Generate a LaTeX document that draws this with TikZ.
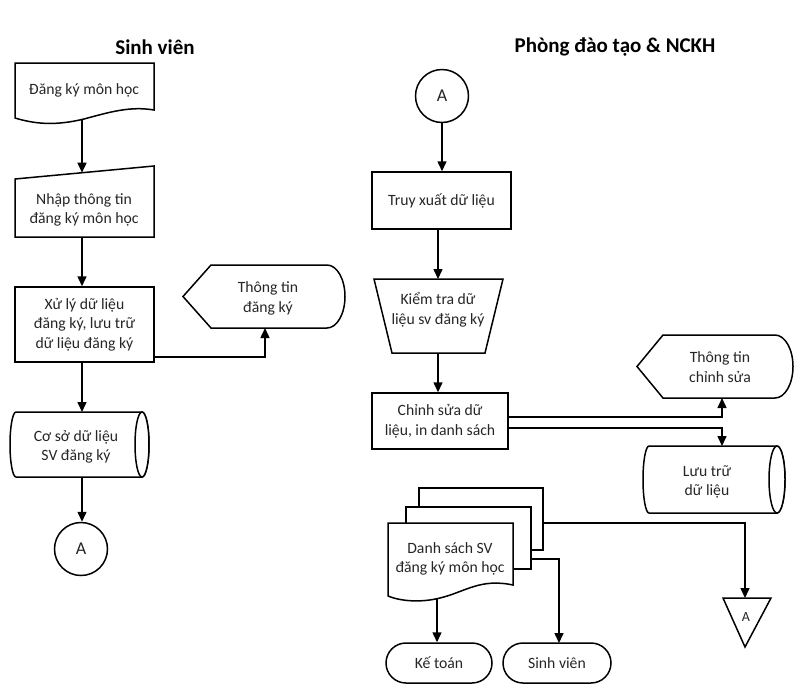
\documentclass[tikz,border=0pt]{standalone}
\usepackage{fontspec}
\setmainfont{Carlito}
\usetikzlibrary{arrows.meta}
\begin{document}
\begin{tikzpicture}[x=1pt,y=-1pt,
 shp/.style={draw=black,line width=1.5pt,fill=white,line join=miter},
 txt/.style={align=center,font=\fontsize{15.7}{19.5}\selectfont,inner sep=0pt,text=black!85},
 hdr/.style={font=\bfseries\fontsize{21}{25}\selectfont,inner sep=0pt},
 conn/.style={draw=black,line width=1.5pt},
 arr/.style={conn,-{Triangle[length=10pt,width=9pt]}},
 boxnode/.style={shp,txt,rectangle},
 circnode/.style={shp,txt,circle,minimum size=53pt,font=\fontsize{18}{20}\selectfont},
 termnode/.style={shp,txt,rectangle,rounded corners=20pt,minimum height=40pt}]
\useasboundingbox (0,0) rectangle (795,686);

% headers
\node[hdr] (h1) at (155,47) {Sinh viên};
\node[hdr] (h2) at (615,47) {Phòng đào tạo \& NCKH};

% ---------- left column ----------
\draw[shp] (15,63) -- (154,63) -- (154,110) .. controls (130,106) and (110,112) .. (84,119) .. controls (55,126) and (35,124) .. (15,118) -- cycle;
\node[txt] (t1) at (84,90) {Đăng ký môn học};
\coordinate (d1b) at (82,120);

\draw[shp] (15,179) -- (154,166) -- (154,237) -- (15,237) -- cycle;
\node[txt] (t2) at (84,210) {Nhập thông tin\\đăng ký môn học};
\coordinate (mit) at (82,172.7);
\coordinate (mib) at (82,237);

\node[boxnode,minimum width=139pt,minimum height=75pt] (xl) at (84.5,324.5) {Xử lý dữ liệu\\đăng ký, lưu trữ\\dữ liệu đăng ký};
\coordinate (xlr) at (154,357);

\draw[shp] (183,296.5) -- (211,265) -- (327,265) arc[start angle=-90,end angle=90,x radius=18,y radius=31.5] -- (211,328) -- cycle;
\node[txt] (t4) at (268,298.5) {Thông tin\\đăng ký};
\coordinate (d4b) at (265,328);

\draw[shp] (16,412) -- (142,412) arc[start angle=-90,end angle=90,x radius=7,y radius=32.5] -- (16,477) arc[start angle=90,end angle=270,x radius=6,y radius=32.5] -- cycle;
\draw[shp] (142,444.5) ellipse[x radius=7,y radius=32.5];
\node[txt] (t5) at (76,447) {Cơ sở dữ liệu\\SV đăng ký};
\coordinate (c1t) at (82,412);
\coordinate (c1b) at (82,477);

\node[circnode] (ca1) at (81,549) {A};

\draw[arr] (d1b) -- (mit);
\draw[arr] (mib) -- (mib |- xl.north);
\draw[arr] (xlr) -| (d4b);
\draw[arr] (c1t |- xl.south) -- (c1t);
\draw[arr] (c1b) -- (c1b |- ca1.north);

% ---------- right column ----------
\node[circnode] (ca2) at (442,96) {A};
\node[boxnode,minimum width=139pt,minimum height=57pt] (tx) at (441.5,200.5) {Truy xuất dữ liệu};

\draw[shp] (374,279) -- (503,279) -- (485,353) -- (392,353) -- cycle;
\node[txt] (t8) at (438,310) {Kiểm tra dữ\\liệu sv đăng ký};
\coordinate (trt) at (438,279);
\coordinate (trb) at (438,353);

\node[boxnode,minimum width=136pt,minimum height=56pt] (cs) at (440,421) {Chỉnh sửa dữ\\liệu, in danh sách};
\coordinate (csr1) at (508,417);
\coordinate (csr2) at (508,428);

\draw[shp] (637,366.5) -- (663,335) -- (775,335) arc[start angle=-90,end angle=90,x radius=18,y radius=31.5] -- (663,398) -- cycle;
\node[txt] (t10) at (720,367) {Thông tin\\chỉnh sửa};
\coordinate (d2b) at (722,398);

\draw[shp] (649,446) -- (777,446) arc[start angle=-90,end angle=90,x radius=8,y radius=33.5] -- (649,513) arc[start angle=90,end angle=270,x radius=6,y radius=33.5] -- cycle;
\draw[shp] (777,479.5) ellipse[x radius=8,y radius=33.5];
\node[txt] (t11) at (707,482) {Lưu trữ\\dữ liệu};
\coordinate (c2t) at (722,446);

% document stack
\draw[shp] (419,488) rectangle (543,550);
\draw[shp] (406,507) rectangle (531,569);
\draw[shp] (388,523) -- (513,523) -- (513,585) .. controls (480,578) and (465,592) .. (440,598) .. controls (420,603) and (400,601) .. (388,596) -- cycle;
\node[txt] (t12) at (450,559) {Danh sách SV\\đăng ký môn học};
\coordinate (dsb) at (437,598.5);
\coordinate (backr) at (543,523);
\coordinate (midr) at (531,559);

\draw[shp] (723,598) -- (771,598) -- (745,647) -- cycle;
\node[txt,font=\fontsize{14}{16}\selectfont] (t13) at (746,617) {A};
\coordinate (tat) at (745,598);

\node[termnode,minimum width=106pt] (kt) at (439,663) {Kế toán};
\node[termnode,minimum width=108pt] (sv) at (557,663) {Sinh viên};
\coordinate (svt) at (559,643);

\draw[arr] (ca2.south) -- (ca2.south |- tx.north);
\draw[arr] (trt |- tx.south) -- (trt);
\draw[arr] (trb) -- (trb |- cs.north);
\draw[arr] (csr1) -| (d2b);
\draw[arr] (csr2) -| (c2t);
\draw[arr] (backr) -| (tat);
\draw[arr] (midr) -| (svt);
\draw[arr] (dsb) -- (dsb |- kt.north);
\end{tikzpicture}
\end{document}
